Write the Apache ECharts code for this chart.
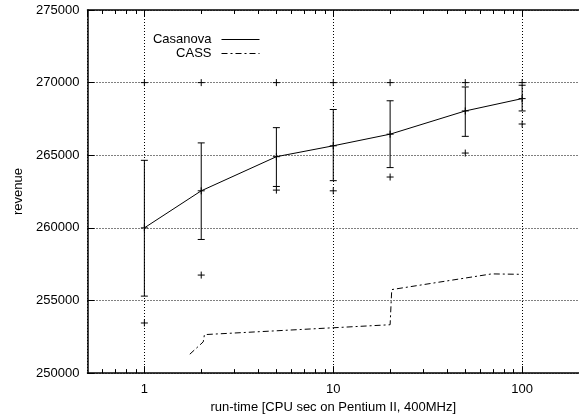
<!DOCTYPE html>
<html>
<head>
<meta charset="utf-8">
<script src="https://cdn.jsdelivr.net/npm/echarts@6/dist/echarts.min.js"></script>
<style>
html,body{margin:0;padding:0;background:#fff;}
#chart{width:579px;height:419px;}
</style>
</head>
<body>
<div id="chart"></div>
<script>
// run-time values (CPU sec)
const xs = [1, 2, 5, 10, 20, 50, 100];
// Casanova: mean revenue, error bar low/high, best (+) and worst (+) points
const casanovaMean = [260000, 262550, 264900, 265650, 266450, 268050, 268900];
const casanovaLow  = [255300, 259200, 262850, 263250, 264150, 266300, 268050];
const casanovaHigh = [264650, 265850, 266900, 268150, 268750, 269700, 269820];
const casanovaBest = [270000, 270000, 270000, 270000, 270000, 270000, 270000];
const casanovaWorst = [253450, 256750, 262600, 262550, 263500, 265150, 267150];
// CASS curve
const cassX = [1.74, 2.05, 2.08, 20, 20.4, 69, 100];
const cassY = [251300, 252150, 252650, 253330, 255750, 256830, 256800];
// axes
const xMin = 0.5, xMax = 200;
const yMin = 250000, yMax = 275000, yStep = 5000;
const minorTickValues = [0.6, 0.7, 0.8, 0.9, 2, 3, 4, 5, 6, 7, 8, 9, 20, 30, 40, 50, 60, 70, 80, 90];

const FONT = '"Liberation Sans", Arial, Helvetica, sans-serif';
const chart = echarts.init(document.getElementById('chart'), null, {renderer: 'canvas'});

const plusData = [];
xs.forEach((x, i) => {
  plusData.push([x, casanovaMean[i]]);
  plusData.push([x, casanovaBest[i]]);
  plusData.push([x, casanovaWorst[i]]);
});

const isPow10 = v => { const l = Math.log10(v); return Math.abs(l - Math.round(l)) < 1e-6; };

const legendCommon = {
  right: 319, align: 'right', orient: 'vertical', padding: 0,
  itemWidth: 38, itemHeight: 10, itemGap: 0,
  itemStyle: {opacity: 0, borderWidth: 0},
  lineStyle: {width: 1},
  textStyle: {fontFamily: FONT, fontSize: 13, color: '#000', padding: [0, 5, 0, 0]}
};

const option = {
  animation: false,
  backgroundColor: '#fff',
  textStyle: {fontFamily: FONT},
  grid: {left: 87.5, top: 10, bottom: 43, right: -5.5, containLabel: false},
  legend: [
    Object.assign({data: ['Casanova'], top: 33}, legendCommon),
    Object.assign({data: ['CASS'], top: 47}, legendCommon)
  ],
  xAxis: [
    {
      type: 'log', logBase: 10, min: xMin, max: xMax, position: 'bottom',
      name: 'run-time [CPU sec on Pentium II, 400MHz]', nameLocation: 'middle', nameGap: 25,
      nameTextStyle: {fontFamily: FONT, fontSize: 13, color: '#000'},
      axisLine: {show: true, lineStyle: {color: '#000', width: 1.5}},
      axisTick: {show: true, inside: true, length: 7, lineStyle: {color: '#000', width: 1}},
      axisLabel: {show: true, margin: 10, fontFamily: FONT, fontSize: 13, color: '#000',
        formatter: v => isPow10(v) ? String(Math.round(v)) : '', showMinLabel: false, showMaxLabel: false},
      splitLine: {show: true, lineStyle: {color: '#000', width: 1, type: [1, 2]}},
      minorTick: {show: false}
    },
    {
      type: 'log', logBase: 10, min: xMin, max: xMax, position: 'top',
      axisLine: {show: true, lineStyle: {color: '#000', width: 1.5}},
      axisTick: {show: true, inside: true, length: 7, lineStyle: {color: '#000', width: 1}},
      axisLabel: {show: false},
      splitLine: {show: false}
    }
  ],
  yAxis: {
    type: 'value', min: yMin, max: yMax, interval: yStep,
    name: 'revenue', nameLocation: 'middle', nameGap: 63, nameRotate: 90,
    nameTextStyle: {fontFamily: FONT, fontSize: 13, color: '#000'},
    axisLine: {show: true, lineStyle: {color: '#000', width: 1.5}},
    axisTick: {show: true, inside: true, length: 7, lineStyle: {color: '#000', width: 1}},
    axisLabel: {margin: 8, fontFamily: FONT, fontSize: 13, color: '#000', formatter: v => String(v)},
    splitLine: {show: true, lineStyle: {color: '#000', width: 1, type: [1, 2]}}
  },
  series: [
    {
      name: 'Casanova', type: 'line', xAxisIndex: 0,
      data: xs.map((x, i) => [x, casanovaMean[i]]),
      symbol: 'none', showSymbol: false,
      lineStyle: {color: '#000', width: 1, type: 'solid'},
      itemStyle: {color: '#000'}, z: 5
    },
    {
      name: 'CASS', type: 'line', xAxisIndex: 0,
      data: cassX.map((x, i) => [x, cassY[i]]),
      symbol: 'none', showSymbol: false,
      lineStyle: {color: '#000', width: 1, type: [6, 3, 2, 3]},
      itemStyle: {color: '#000'}, z: 5
    },
    {
      name: 'errorbars', type: 'custom', xAxisIndex: 0,
      data: xs.map((x, i) => [x, casanovaLow[i], casanovaHigh[i]]),
      encode: {x: 0, y: [1, 2]},
      renderItem: (params, api) => {
        const lo = api.coord([api.value(0), api.value(1)]);
        const hi = api.coord([api.value(0), api.value(2)]);
        const w = 3.5;
        const st = {stroke: '#000', lineWidth: 1, fill: null};
        return {type: 'group', children: [
          {type: 'line', shape: {x1: lo[0], y1: lo[1], x2: hi[0], y2: hi[1]}, style: st},
          {type: 'line', shape: {x1: lo[0] - w, y1: lo[1], x2: lo[0] + w, y2: lo[1]}, style: st},
          {type: 'line', shape: {x1: hi[0] - w, y1: hi[1], x2: hi[0] + w, y2: hi[1]}, style: st}
        ]};
      },
      z: 6
    },
    {
      name: 'points', type: 'custom', xAxisIndex: 0,
      data: plusData,
      renderItem: (params, api) => {
        const p = api.coord([api.value(0), api.value(1)]);
        const s = 3.5;
        const st = {stroke: '#000', lineWidth: 1, fill: null};
        return {type: 'group', children: [
          {type: 'line', shape: {x1: p[0] - s, y1: p[1], x2: p[0] + s, y2: p[1]}, style: st},
          {type: 'line', shape: {x1: p[0], y1: p[1] - s, x2: p[0], y2: p[1] + s}, style: st}
        ]};
      },
      z: 7
    },
    {
      name: 'minorTicks', type: 'custom', xAxisIndex: 0,
      data: minorTickValues.map(v => [v, yMin]),
      renderItem: (params, api) => {
        const cs = params.coordSys;
        const x = Math.round(api.coord([api.value(0), yMin])[0]) + 0.5;
        const st = {stroke: '#000', lineWidth: 1, fill: null};
        const len = 4;
        return {type: 'group', children: [
          {type: 'line', shape: {x1: x, y1: cs.y + cs.height, x2: x, y2: cs.y + cs.height - len}, style: st},
          {type: 'line', shape: {x1: x, y1: cs.y, x2: x, y2: cs.y + len}, style: st}
        ]};
      },
      z: 8
    }
  ]
};
chart.setOption(option);
</script>
</body>
</html>
